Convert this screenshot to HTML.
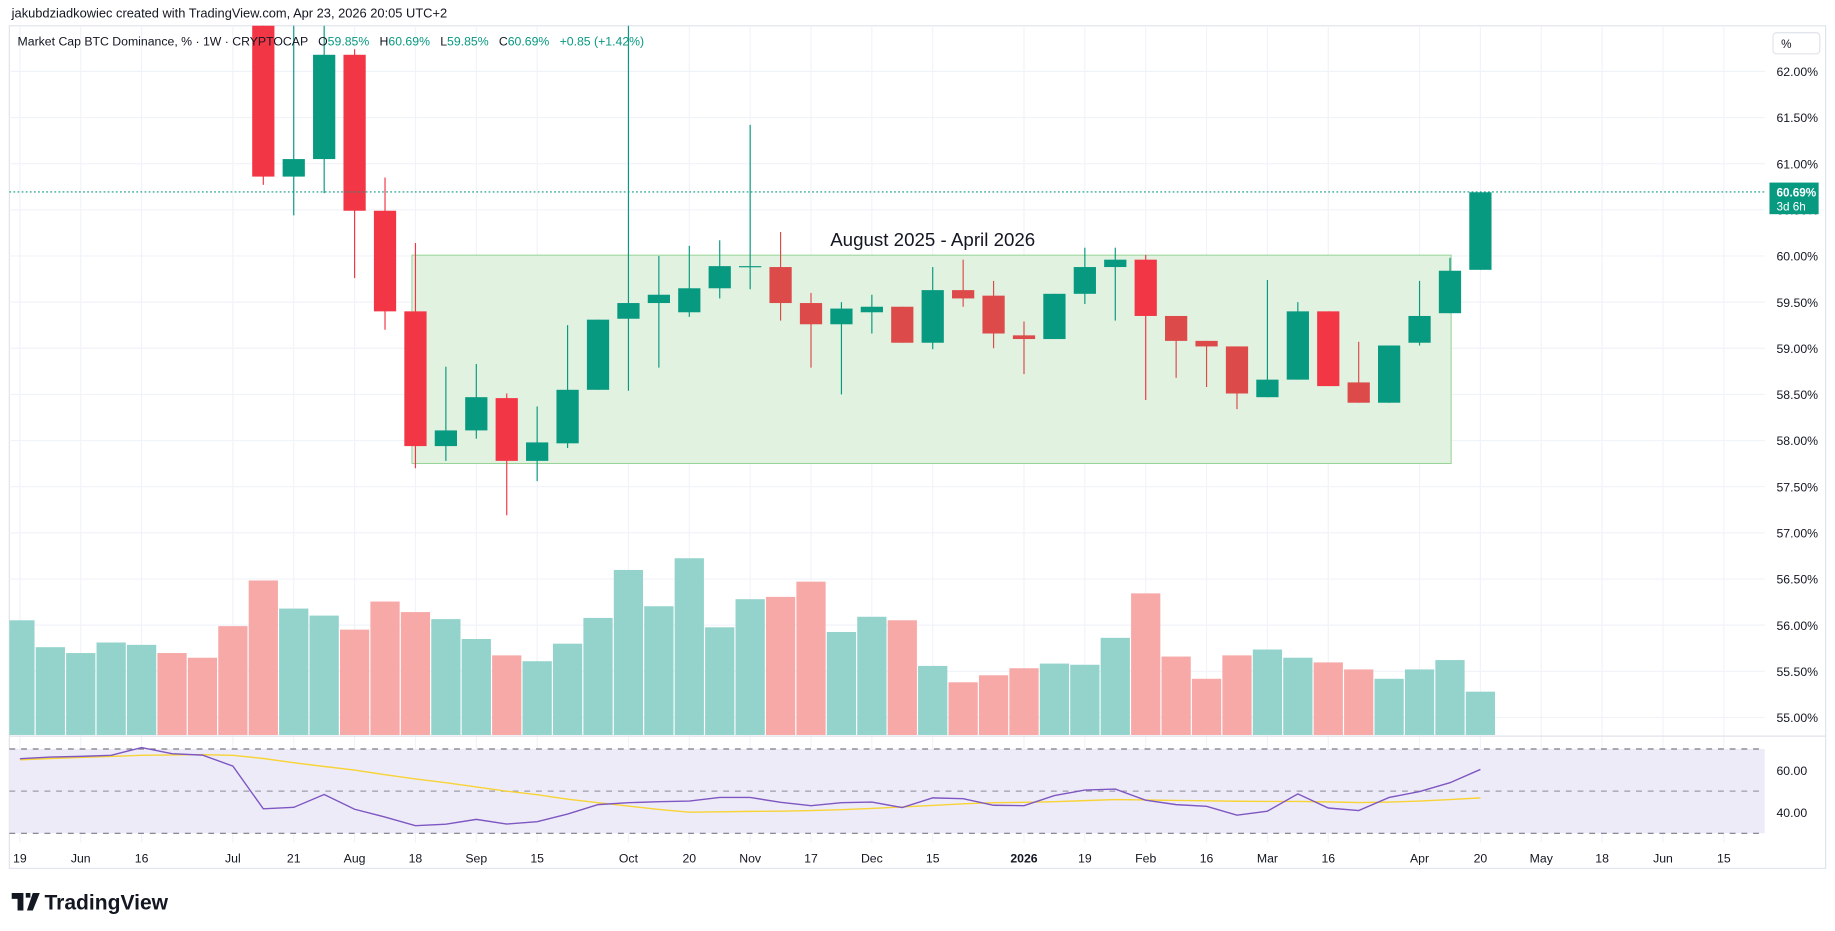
<!DOCTYPE html>
<html><head><meta charset="utf-8"><style>
html,body{margin:0;padding:0;background:#fff;}
svg{display:block;font-family:"Liberation Sans",sans-serif;}
</style></head><body>
<svg id="c" width="1835" height="931" viewBox="0 0 1568 795.5" preserveAspectRatio="none" xmlns="http://www.w3.org/2000/svg">
<defs>
<clipPath id="mainClip"><rect x="8" y="22" width="1500" height="606"/></clipPath>
<clipPath id="rsiClip"><rect x="8" y="630" width="1500" height="88"/></clipPath>
</defs>
<text x="10" y="15" font-size="11" fill="#131722">jakubdziadkowiec created with TradingView.com, Apr 23, 2026 20:05 UTC+2</text>
<rect x="8" y="22" width="1552" height="720" fill="#fff" stroke="#e0e3eb" stroke-width="1"/>
<g id="grid"></g>
<rect x="352" y="218" width="888" height="178" fill="#e1f2e0" stroke="#8fd18f" stroke-width="0.8"/>
<g id="vol" clip-path="url(#mainClip)"></g>
<g id="candles" clip-path="url(#mainClip)"></g>
<text x="797" y="210" font-size="16" fill="#131722" text-anchor="middle">August 2025 - April 2026</text>
<line x1="8" y1="164" x2="1508" y2="164" stroke="#089981" stroke-width="1" stroke-dasharray="1.5,2"/>
<g id="paxis"></g>
<rect x="1512" y="156" width="42" height="27" fill="#089981"/>
<text x="1518" y="168" font-size="10" font-weight="bold" fill="#fff">60.69%</text>
<text x="1518" y="180" font-size="10" fill="#fff">3d 6h</text>
<rect x="1515" y="28" width="40" height="18" rx="3" fill="#fff" stroke="#e0e3eb"/>
<text x="1522" y="41" font-size="10" fill="#131722">%</text>
<text x="15" y="39" font-size="10.5" fill="#131722" style="white-space:pre">Market Cap BTC Dominance, % · 1W · CRYPTOCAP   O<tspan fill="#089981">59.85%</tspan>   H<tspan fill="#089981">60.69%</tspan>   L<tspan fill="#089981">59.85%</tspan>   C<tspan fill="#089981">60.69%</tspan>   <tspan fill="#089981">+0.85 (+1.42%)</tspan></text>
<line x1="8" y1="629" x2="1560" y2="629" stroke="#e0e3eb"/>
<g id="rsi"></g>
<g id="taxis"></g>
<g>
<path d="M10 763h10v15h-5v-10h-5z M22 763h4v4h-4z M28 763h6l-6 15h-5z" fill="#131722"/>
<text x="38" y="777" font-size="18" font-weight="bold" fill="#131722">TradingView</text>
</g>
</svg>
<script>
const weeks = ["May19","May26","Jun2","Jun9","Jun16","Jun23","Jun30","Jul7","Jul14","Jul21","Jul28","Aug4","Aug11","Aug18","Aug25","Sep1","Sep8","Sep15","Sep22","Sep29","Oct6","Oct13","Oct20","Oct27","Nov3","Nov10","Nov17","Nov24","Dec1","Dec8","Dec15","Dec22","Dec29","Jan5","Jan12","Jan19","Jan26","Feb2","Feb9","Feb16","Feb23","Mar2","Mar9","Mar16","Mar23","Mar30","Apr6","Apr13","Apr20"];
const opens  = [63.6,63.9,64.2,64.5,64.8,65.5,65.2,64.9,63.3,60.86,61.05,62.18,60.49,59.40,57.94,58.11,58.46,57.78,57.97,58.55,59.32,59.49,59.39,59.65,59.89,59.88,59.49,59.26,59.39,59.45,59.06,59.63,59.57,59.14,59.10,59.59,59.88,59.96,59.35,59.08,59.02,58.47,58.66,59.40,58.63,58.41,59.06,59.38,59.85];
const closes = [63.9,64.2,64.5,64.8,65.5,65.2,64.9,64.2,60.86,61.05,62.18,60.49,59.40,57.94,58.11,58.47,57.78,57.98,58.55,59.31,59.49,59.58,59.65,59.89,59.89,59.49,59.26,59.43,59.45,59.06,59.63,59.54,59.16,59.10,59.59,59.88,59.96,59.35,59.08,59.02,58.51,58.66,59.40,58.59,58.41,59.03,59.35,59.84,60.69];
const highs  = [64.1,64.4,64.7,65.0,65.8,65.8,65.4,65.1,63.6,63.5,62.5,62.24,60.85,60.14,58.80,58.83,58.51,58.37,59.25,59.31,63.5,60.00,60.11,60.17,61.42,60.26,59.60,59.50,59.58,59.45,59.88,59.96,59.73,59.29,59.59,60.09,60.09,60.01,59.35,59.08,59.02,59.74,59.50,59.40,59.07,59.03,59.73,59.98,60.69];
const lows   = [63.4,63.7,64.0,64.3,64.6,65.0,64.7,63.9,60.77,60.44,60.68,59.76,59.20,57.70,57.78,58.02,57.19,57.56,57.92,58.55,58.54,58.79,59.34,59.54,59.64,59.30,58.79,58.50,59.16,59.06,58.99,59.45,59.00,58.72,59.10,59.48,59.30,58.44,58.68,58.58,58.34,58.47,58.66,58.59,58.41,58.41,59.03,59.38,59.85];
const volumes = [98,75,70,79,77,70,66,93,132,108,102,90,114,105,99,82,68,63,78,100,141,110,151,92,116,118,131,88,101,98,59,45,51,57,61,60,83,121,67,48,68,73,66,62,56,48,56,64,37];
const rsiVals = [65.4,66.2,66.5,67.0,70.7,67.8,67.1,61.9,41.6,42.3,48.4,41.4,37.7,33.6,34.3,36.6,34.4,35.5,39.1,43.6,44.5,45.0,45.3,47.0,47.0,44.7,43.1,44.5,44.8,42.2,46.8,46.4,43.3,43.1,47.9,50.5,51.0,45.7,43.6,42.8,38.6,40.5,48.7,42.0,40.8,47.0,49.8,54.0,60.3];
const rsiMaVals = [64.9,65.5,66.0,66.5,67.0,67.2,67.3,67.0,65.5,63.5,61.7,60.0,57.8,55.8,54.0,52.0,50.0,48.3,46.2,44.5,42.9,41.3,40.0,40.2,40.4,40.5,40.8,41.2,41.8,42.5,43.2,44.0,44.5,44.7,45.0,45.5,46.0,45.8,45.6,45.4,45.2,45.1,45.1,44.9,44.6,44.8,45.3,46.0,46.8];
const priceTicks = [62,61.5,61,60.5,60,59.5,59,58.5,58,57.5,57,56.5,56,55.5,55];
const timeLabelIdx = [0,2,4,7,9,11,13,15,17,20,22,24,26,28,30,33,35,37,39,41,43,46,48,50,52,54,56];
const timeLabels = ["19","Jun","16","Jul","21","Aug","18","Sep","15","Oct","20","Nov","17","Dec","15","2026","19","Feb","16","Mar","16","Apr","20","May","18","Jun","15"];
const rsiTicks = [60,40];
const rsiBands = [70,50,30];

const NS="http://www.w3.org/2000/svg";
const xOf = i => 17 + 26*i;
const yP = p => 61 + (62-p)*78.86;
const yV = v => 628 - v;
const yR = v => 676 - (v-50)*1.8;
function mk(tag, attrs, parent){const e=document.createElementNS(NS,tag);for(const k in attrs)e.setAttribute(k,attrs[k]);parent.appendChild(e);return e;}
const UP="#089981", DN="#f23645";

const grid=document.getElementById('grid');
priceTicks.forEach(p=>{const l=mk('line',{x1:8,x2:1508,y1:yP(p),y2:yP(p),stroke:'#f0f3fa'},grid);

});
timeLabelIdx.forEach(i=>{const l=mk('line',{x1:xOf(i),x2:xOf(i),y1:22,y2:720,stroke:'#f0f3fa'},grid);

});

const pax=document.getElementById('paxis');
priceTicks.forEach(p=>{const t=mk('text',{x:1518,y:yP(p)+4,'font-size':10.5,fill:'#131722'},pax);t.textContent=p.toFixed(2)+'%';

});

const vol=document.getElementById('vol');
volumes.forEach((v,i)=>{const up=closes[i]>=opens[i];
const r=mk('rect',{x:xOf(i)-12.5,y:yV(v),width:25,height:628-yV(v),fill:up?'#93d3cc':'#f7a9a7'},vol);

});

const cg=document.getElementById('candles');
weeks.forEach((w,i)=>{const o=opens[i],c=closes[i],up=c>=o;
const colr=up?UP:(i>=25&&i!==37&&i!==43?'#dd4a4a':DN);
const g=mk('g',{},cg);


mk('line',{x1:xOf(i),x2:xOf(i),y1:yP(highs[i]),y2:yP(lows[i]),stroke:colr,'stroke-width':1},g);
const top=yP(Math.max(o,c)),bot=yP(Math.min(o,c));
mk('rect',{x:xOf(i)-9.5,y:top,width:19,height:Math.max(1,bot-top),fill:colr},g);});

const rg=document.getElementById('rsi');
const bg=mk('rect',{x:8,y:yR(70),width:1500,height:yR(30)-yR(70),fill:'#eeebf8'},rg);


rsiBands.forEach(b=>{const l=mk('line',{x1:8,x2:1508,y1:yR(b),y2:yR(b),stroke:b===50?'#9c9ca8':'#787b86','stroke-dasharray':'5,5','stroke-width':1},rg);

});
rsiTicks.forEach(v=>{const t=mk('text',{x:1518,y:yR(v)+4,'font-size':10.5,fill:'#131722'},rg);t.textContent=v.toFixed(2);

});
const maLine=mk('polyline',{points:rsiMaVals.map((v,i)=>xOf(i)+','+yR(v)).join(' '),fill:'none',stroke:'#f7d335','stroke-width':1.2,'clip-path':'url(#rsiClip)'},rg);


const rl=mk('polyline',{points:rsiVals.map((v,i)=>xOf(i)+','+yR(v)).join(' '),fill:'none',stroke:'#7e57c2','stroke-width':1.2,'clip-path':'url(#rsiClip)'},rg);



const tax=document.getElementById('taxis');
timeLabelIdx.forEach((i,k)=>{const t=mk('text',{x:xOf(i),y:737,'font-size':10.5,fill:'#131722','text-anchor':'middle','font-weight':timeLabels[k]==='2026'?'bold':'normal'},tax);t.textContent=timeLabels[k];

});
</script>
</body></html>
